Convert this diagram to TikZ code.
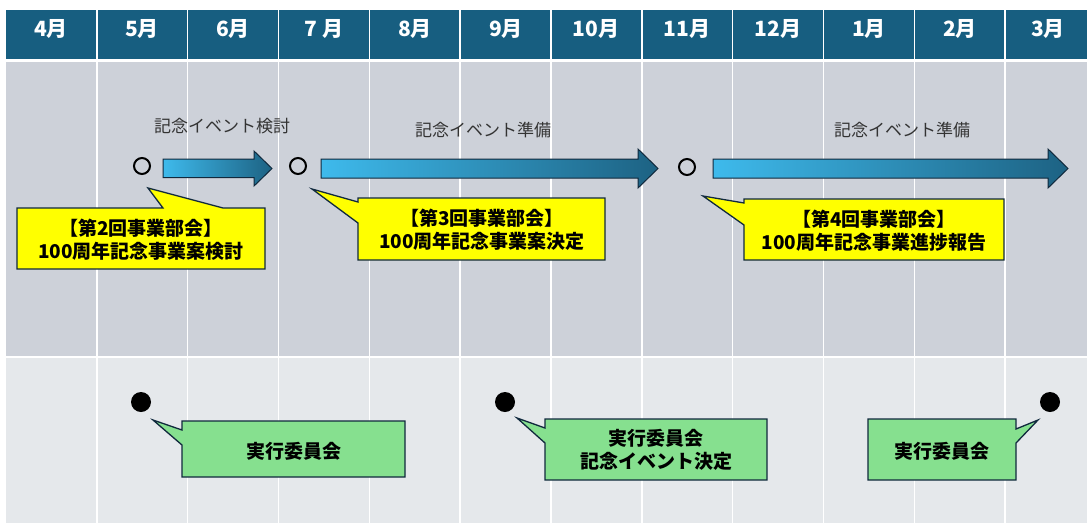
\documentclass[tikz,border=0pt]{standalone}
\usepackage{fontspec}
\setmainfont{Noto Sans CJK JP}
\definecolor{hdr}{HTML}{175E80}
\definecolor{upperbg}{HTML}{CDD1D9}
\definecolor{lowerbg}{HTML}{E5E8EB}
\definecolor{arrL}{HTML}{3EBAEC}
\definecolor{arrR}{HTML}{1D6283}
\definecolor{edge}{HTML}{10293D}
\definecolor{yel}{HTML}{FFFF00}
\definecolor{grn}{HTML}{86E08F}
\definecolor{lbl}{HTML}{333333}
\tikzset{
  month/.style={text=white, font=\fontsize{21}{24}\selectfont\bfseries, inner sep=0pt},
  toplabel/.style={text=lbl, font=\fontsize{17}{20}\selectfont, inner sep=0pt},
  calltext/.style={text=black, font=\fontsize{19}{23}\selectfont\bfseries, align=center, inner sep=0pt},
  ocirc/.style={circle, draw=black, line width=2pt, minimum size=16pt, inner sep=0pt},
  dot/.style={circle, fill=black, minimum size=20pt, inner sep=0pt},
  yelbox/.style={fill=yel, draw=edge, line width=1.3pt, line join=miter},
  grnbox/.style={fill=grn, draw=edge, line width=1.3pt, line join=miter},
  arrowbody/.style={left color=arrL, right color=arrR, draw=edge, line width=1pt, line join=miter},
  sep/.style={white, line width=1.6pt}
}
\begin{document}
\begin{tikzpicture}[x=1pt,y=-1pt]
\useasboundingbox (0,0) rectangle (1087,523);
\fill[white] (0,0) rectangle (1087,523);
\fill[hdr] (6,10) rectangle (1087,59);
\fill[upperbg] (6,62) rectangle (1087,355.5);
\fill[lowerbg] (6,357.5) rectangle (1087,523);
\foreach \k in {1,...,11} \draw[sep] ({6+90.83*\k},10) -- ({6+90.83*\k},523);
% months
\node[month] (m0) at (51,29) {4月};
\node[month] (m1) at (142,29) {5月};
\node[month] (m2) at (233,29) {6月};
\node[month] (m3) at (324,29) {7 月};
\node[month] (m4) at (415,29) {8月};
\node[month] (m5) at (506,29) {9月};
\node[month] (m6) at (596,29) {10月};
\node[month] (m7) at (687,29) {11月};
\node[month] (m8) at (778,29) {12月};
\node[month] (m9) at (869,29) {1月};
\node[month] (m10) at (960,29) {2月};
\node[month] (m11) at (1048,29) {3月};
% top labels
\node[toplabel] (t1) at (222,126) {記念イベント検討};
\node[toplabel] (t2) at (483,130) {記念イベント準備};
\node[toplabel] (t3) at (902,130) {記念イベント準備};
% arrows
\path[arrowbody] (163,159) -- (254,159) -- (254,151) -- (272,168.5) -- (254,186) -- (254,177.5) -- (163,177.5) -- cycle;
\path[arrowbody] (321,159) -- (638,159) -- (638,149) -- (658,168.5) -- (638,188) -- (638,178) -- (321,178) -- cycle;
\path[arrowbody] (713,159) -- (1048,159) -- (1048,149) -- (1068,168.5) -- (1048,188) -- (1048,178) -- (713,178) -- cycle;
% open circles
\node[ocirc] (c1) at (142,166) {};
\node[ocirc] (c2) at (298,166) {};
\node[ocirc] (c3) at (687,167) {};
% yellow callouts
\path[yelbox] (17,208) -- (163,208) -- (148,188) -- (223,208) -- (265,208) -- (265,269) -- (17,269) -- cycle;
\node[calltext] (y1) at (141,239.5) {【第2回事業部会】\\100周年記念事業案検討};
\path[yelbox] (358,198) -- (605,198) -- (605,260) -- (358,260) -- (358,223) -- (312,189) -- (358,202) -- cycle;
\node[calltext] (y2) at (482,230) {【第3回事業部会】\\100周年記念事業案決定};
\path[yelbox] (744,199) -- (1004,199) -- (1004,260) -- (744,260) -- (744,225) -- (703,196) -- (744,203) -- cycle;
\node[calltext] (y3) at (874,230.5) {【第4回事業部会】\\100周年記念事業進捗報告};
% dots
\node[dot] (d1) at (141,402) {};
\node[dot] (d2) at (505,402) {};
\node[dot] (d3) at (1050,402) {};
% green callouts
\path[grnbox] (182,421) -- (405,421) -- (405,477) -- (182,477) -- (182,445) -- (153,420) -- (182,430) -- cycle;
\node[calltext] (g1) at (293.5,451) {実行委員会};
\path[grnbox] (545,419) -- (767,419) -- (767,480) -- (545,480) -- (545,443) -- (517,418) -- (545,428) -- cycle;
\node[calltext] (g2) at (656,450) {実行委員会\\記念イベント決定};
\path[grnbox] (868,419) -- (1016,419) -- (1016,429) -- (1038,420) -- (1016,443) -- (1016,480) -- (868,480) -- cycle;
\node[calltext] (g3) at (942,451) {実行委員会};
\end{tikzpicture}
\end{document}
